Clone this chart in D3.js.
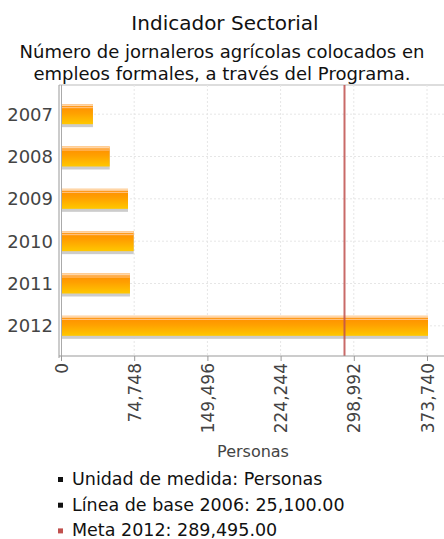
<!DOCTYPE html>
<html>
<head>
<meta charset="utf-8">
<script src="https://cdn.jsdelivr.net/npm/d3@7"></script>
<style>
  body { margin: 0; background: #fff; }
  svg { display: block; font-family: "DejaVu Sans", sans-serif; }
</style>
</head>
<body>
<div id="chart"></div>
<script>
const width = 444,
    height = 539;

// data
const years = ["2007", "2008", "2009", "2010", "2011", "2012"];
const values = [31600, 48700, 67400, 73200, 69400, 373740];
const xTicks = [0, 74748, 149496, 224244, 298992, 373740];
const meta = 289495;
const legendItems = ["Unidad de medida: Personas", "Línea de base 2006: 25,100.00", "Meta 2012: 289,495.00"];
const legendColors = ["#111", "#111", "#c0504d"];

const data = years.map((y, i) => ({year: y, value: values[i]}));

const svg = d3.select("#chart")
  .append("svg")
  .attr("width", width)
  .attr("height", height);

const defs = svg.append("defs");
const grad = defs.append("linearGradient")
  .attr("id", "barGrad")
  .attr("x1", 0).attr("y1", 0).attr("x2", 0).attr("y2", 1);
grad.append("stop").attr("offset", "0%").attr("stop-color", "#ff8a00");
grad.append("stop").attr("offset", "45%").attr("stop-color", "#ffa000");
grad.append("stop").attr("offset", "100%").attr("stop-color", "#ffc800");

// titles
svg.append("text")
  .attr("x", 225).attr("y", 30)
  .attr("text-anchor", "middle")
  .attr("font-size", 20)
  .attr("fill", "#111")
  .text("Indicador Sectorial");

const sub = ["Número de jornaleros agrícolas colocados en", "empleos formales, a través del Programa."];
svg.selectAll(".sub")
  .data(sub)
  .enter().append("text")
  .attr("class", "sub")
  .attr("x", 222)
  .attr("y", (d, i) => 58 + i * 22)
  .attr("text-anchor", "middle")
  .attr("font-size", 18)
  .attr("fill", "#111")
  .text(d => d);

const x = d3.scaleLinear().domain([0, 373740]).range([61, 427]);
const y = d3.scaleBand().domain(years).range([93, 347]);

const plotTop = 85, plotBottom = 356;

// frame
svg.append("line").attr("x1", 59).attr("x2", 444).attr("y1", plotTop).attr("y2", plotTop)
  .attr("stroke", "#bbb");
svg.append("line").attr("x1", 59).attr("x2", 59).attr("y1", plotTop).attr("y2", plotBottom + 2)
  .attr("stroke", "#999");
svg.append("line").attr("x1", 61.5).attr("x2", 61.5).attr("y1", plotTop).attr("y2", plotBottom)
  .attr("stroke", "#aaa");

// grid
svg.selectAll(".vgrid")
  .data(xTicks.slice(1))
  .enter().append("line")
  .attr("class", "vgrid")
  .attr("x1", d => x(d)).attr("x2", d => x(d))
  .attr("y1", plotTop).attr("y2", plotBottom)
  .attr("stroke", "#e6e6e6")
  .attr("stroke-dasharray", "2,2");

svg.selectAll(".hgrid")
  .data(years)
  .enter().append("line")
  .attr("class", "hgrid")
  .attr("x1", 62).attr("x2", 444)
  .attr("y1", d => y(d) + y.bandwidth() / 2)
  .attr("y2", d => y(d) + y.bandwidth() / 2)
  .attr("stroke", "#e6e6e6")
  .attr("stroke-dasharray", "2,2");

// bars
const barH = 20;
const bars = svg.selectAll(".bar")
  .data(data)
  .enter().append("g")
  .attr("class", "bar")
  .attr("transform", d => "translate(0," + (y(d.year) + y.bandwidth() / 2 - barH / 2) + ")");

bars.append("rect")   // shadow
  .attr("x", x(0) + 1).attr("y", 3)
  .attr("width", d => x(d.value) - x(0))
  .attr("height", barH)
  .attr("fill", "#ccc");
bars.append("rect")
  .attr("x", x(0) + 1).attr("y", 0)
  .attr("width", d => x(d.value) - x(0))
  .attr("height", barH)
  .attr("fill", "url(#barGrad)");
bars.append("rect")   // highlight
  .attr("x", x(0) + 1).attr("y", 0)
  .attr("width", d => x(d.value) - x(0))
  .attr("height", 2)
  .attr("fill", "#ffd6a8");
bars.append("rect")
  .attr("x", x(0) + 1).attr("y", 3)
  .attr("width", d => x(d.value) - x(0))
  .attr("height", 1)
  .attr("fill", "#ffc890");

// meta line
svg.append("line")
  .attr("x1", x(meta)).attr("x2", x(meta))
  .attr("y1", plotTop).attr("y2", plotBottom)
  .attr("stroke", "#c0504d")
  .attr("stroke-opacity", 0.85)
  .attr("stroke-width", 2);

// y labels
svg.selectAll(".ylab")
  .data(years)
  .enter().append("text")
  .attr("class", "ylab")
  .attr("x", 53)
  .attr("y", d => y(d) + y.bandwidth() / 2)
  .attr("dy", "0.36em")
  .attr("text-anchor", "end")
  .attr("font-size", 18)
  .attr("fill", "#444")
  .text(d => d);

// x axis
const xAxis = svg.append("g")
  .attr("transform", "translate(0," + plotBottom + ")")
  .call(d3.axisBottom(x).tickValues(xTicks).tickSize(5).tickSizeOuter(0)
    .tickFormat(d3.format(",")));
xAxis.select(".domain").remove();
xAxis.append("line").attr("x1", 59).attr("x2", 444).attr("stroke", "#999");
xAxis.selectAll(".tick line").attr("stroke", "#999");
xAxis.selectAll(".tick text")
  .attr("font-family", "DejaVu Sans")
  .attr("font-size", 17)
  .attr("fill", "#444")
  .attr("transform", "rotate(-90)")
  .attr("text-anchor", "end")
  .attr("x", -7)
  .attr("y", 0)
  .attr("dy", "0.36em");

svg.append("text")
  .attr("x", 253).attr("y", 457)
  .attr("text-anchor", "middle")
  .attr("font-size", 16)
  .attr("fill", "#444")
  .text("Personas");

// legend
const leg = svg.selectAll(".leg")
  .data(legendItems)
  .enter().append("g")
  .attr("class", "leg")
  .attr("transform", (d, i) => "translate(0," + (485 + i * 25.7) + ")");
leg.append("rect")
  .attr("x", 58).attr("y", -8)
  .attr("width", 5).attr("height", 5)
  .attr("fill", (d, i) => legendColors[i]);
leg.append("text")
  .attr("x", 72)
  .attr("font-size", 17.5)
  .attr("fill", "#111")
  .text(d => d);
</script>
</body>
</html>
